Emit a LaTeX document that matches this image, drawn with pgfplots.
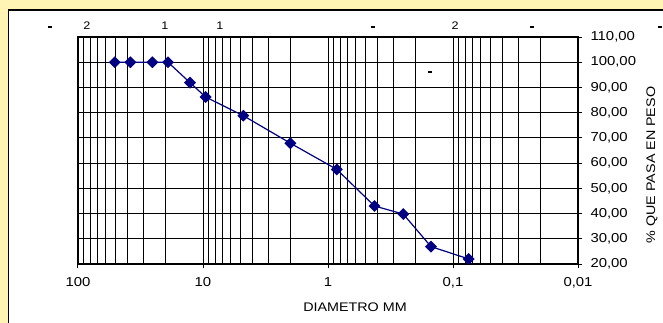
\documentclass[border=0pt]{standalone}
\usepackage{pgfplots}
\pgfplotsset{compat=1.18}
\usepackage{fontspec}
\setmainfont{Liberation Sans}[FakeStretch=1.15]
\definecolor{bgyel}{RGB}{255,244,180}
\definecolor{bgpale}{RGB}{255,252,225}
\definecolor{navyline}{RGB}{0,0,128}
\begin{document}
\fontsize{13}{15}\selectfont
\begin{tikzpicture}[x=1bp,y=1bp]
\useasboundingbox (0,0) rectangle (663,322);
\shade[left color=bgyel, right color=bgpale, middle color=bgpale] (0,0) rectangle (663,322);
\fill[bgyel] (0,312) rectangle (663,322);
\begin{scope}
\clip (0,0) rectangle (663,322);
\filldraw[fill=white, draw=black, line width=1.1bp] (8.5,-5) rectangle (675,312);
\end{scope}
% stray cut-off labels at the top
\node[font=\fontsize{11}{12}\selectfont] at (87,296) {2};
\node[font=\fontsize{11}{12}\selectfont] at (165,296) {1};
\node[font=\fontsize{11}{12}\selectfont] at (220,296) {1};
\node[font=\fontsize{11}{12}\selectfont] at (455,296) {2};
\foreach \xx in {50,373,532,660} {\fill[black] (\xx-2,294.5) rectangle (\xx+2,296);}
\fill[black] (428,249.5) rectangle (432,251);
\begin{axis}[
  at={(78bp,58bp)}, anchor=south west,
  scale only axis, width=500bp, height=227bp,
  xmode=log, x dir=reverse,
  xmin=0.01, xmax=100,
  ymin=20, ymax=110,
  xtick={100,10,1,0.1,0.01},
  xticklabels={100,10,1,{0,1},{0,01}},
  minor xtick={0.02,0.03,0.04,0.05,0.06,0.07,0.08,0.09,
               0.2,0.3,0.4,0.5,0.6,0.7,0.8,0.9,
               2,3,4,5,6,7,8,9,
               20,30,40,50,60,70,80,90},
  ytick={20,30,...,110},
  yticklabel pos=right,
  xtick pos=bottom, ytick pos=right,
  tick align=outside,
  major tick length=4bp, minor tick length=0bp,
  xmajorgrids, xminorgrids, ymajorgrids,
  grid style={black, line width=1bp},
  minor grid style={black, line width=1bp},
  axis line style={black, line width=1.1bp},
  tick style={black, line width=1bp},
  /pgf/number format/assume math mode=true,
  yticklabel={\pgfmathprintnumber[fixed, fixed zerofill, precision=2, use comma]{\tick}},
  xticklabel style={yshift=-5bp},
  yticklabel style={xshift=4bp},
  xlabel={DIAMETRO MM},
  xlabel style={at={(axis description cs:0.554,-0.19)}, anchor=center, font=\fontsize{12.5}{14}\selectfont},
  ylabel={\% QUE PASA EN PESO},
  ylabel style={at={(axis description cs:1.148,0.436)}, anchor=center, font=\fontsize{12.5}{14}\selectfont},
  clip=false,
]
\addplot[navyline, line width=1.2bp, mark=square*, mark size=3.6bp, mark options={rotate=45, fill=navyline, draw=navyline}] coordinates {
(50.8,100) (38.1,100) (25.4,100) (19.05,100) (12.7,91.9) (9.525,86.2)
(4.76,78.8) (2.0,67.9) (0.85,57.5) (0.425,43.0) (0.25,39.8) (0.15,26.9) (0.075,22.0)
};
\end{axis}
\end{tikzpicture}
\end{document}
